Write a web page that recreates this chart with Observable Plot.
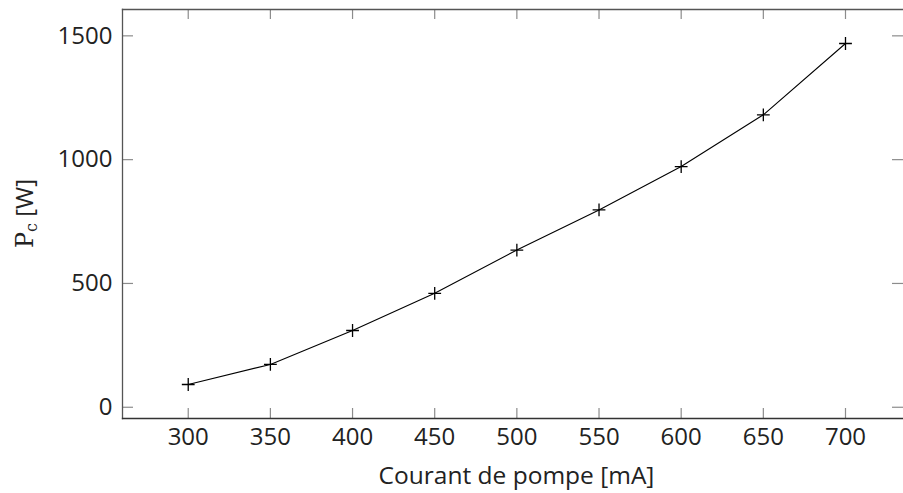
<!DOCTYPE html>
<html>
<head>
<meta charset="utf-8">
<script src="https://cdn.jsdelivr.net/npm/d3@7"></script>
<script src="https://cdn.jsdelivr.net/npm/@observablehq/plot@0.6"></script>
<style>
  html, body { margin: 0; padding: 0; background: #fff; overflow: hidden; }
</style>
</head>
<body>
<div id="chart"></div>
<script>
const current = [300, 350, 400, 450, 500, 550, 600, 650, 700];
const power = [92, 173, 310, 460, 635, 797, 972, 1181, 1469];
const xTicks = [300, 350, 400, 450, 500, 550, 600, 650, 700];
const yTicks = [0, 500, 1000, 1500];
const xLabel = "Courant de pompe [mA]";
const yLabelMain = "P";
const yLabelSub = "c";
const yLabelUnit = " [W]";

const data = current.map((c, i) => ({c, p: power[i]}));

const W = 903, H = 493;
const mL = 122, mR = 0, mT = 9, mB = 75;
const plotW = W - mL - mR, plotH = H - mT - mB;
const tickCol = "#8c8c8c";
const font = "Open Sans, sans-serif";
const chart = Plot.plot({
  width: W,
  height: H,
  marginLeft: mL,
  marginRight: mR,
  marginTop: mT,
  marginBottom: mB,
  style: {fontFamily: font},
  x: {domain: [260, 735.3]},
  y: {domain: [-45.4, 1606.4]},
  marks: [
    Plot.tickX(xTicks, {x: d => d, stroke: tickCol, strokeWidth: 1.2, insetTop: plotH - 10}),
    Plot.tickX(xTicks, {x: d => d, stroke: tickCol, strokeWidth: 1.2, insetBottom: plotH - 10}),
    Plot.tickY(yTicks, {y: d => d, stroke: tickCol, strokeWidth: 1.2, insetRight: plotW - 11}),
    Plot.tickY(yTicks, {y: d => d, stroke: tickCol, strokeWidth: 1.2, insetLeft: plotW - 11}),
    Plot.axisX(xTicks, {anchor: "bottom", tickSize: 0, tickPadding: 9, fontSize: 24, fill: "#222", label: null, tickFormat: d => String(d)}),
    Plot.axisY(yTicks, {anchor: "left", tickSize: 0, tickPadding: 10, fontSize: 24, fill: "#222", label: null, tickFormat: d => String(d)}),
    Plot.frame({anchor: "left", stroke: "#555", strokeWidth: 1.3}),
    Plot.frame({anchor: "top", stroke: "#555", strokeWidth: 1.3}),
    Plot.frame({anchor: "bottom", stroke: "#333", strokeWidth: 1.3}),
    Plot.line(data, {x: "c", y: "p", stroke: "#000", strokeWidth: 1.1}),
    Plot.dot(data, {x: "c", y: "p", symbol: "plus", r: 4.2, stroke: "#000", strokeWidth: 1.3})
  ]
});
document.getElementById("chart").appendChild(chart);

const svg = d3.select(chart);
svg.append("text")
  .attr("x", 516.5)
  .attr("y", 484)
  .attr("text-anchor", "middle")
  .attr("font-size", 24.5)
  .attr("fill", "#222")
  .attr("font-family", font)
  .text(xLabel);
const yt = svg.append("text")
  .attr("transform", `translate(33,${mT + plotH / 2}) rotate(-90)`)
  .attr("text-anchor", "middle")
  .attr("font-size", 24)
  .attr("fill", "#222");
yt.append("tspan").attr("font-family", "DejaVu Serif, serif").text(yLabelMain);
yt.append("tspan").attr("font-family", "DejaVu Serif, serif").attr("font-size", 16).attr("dy", 4).text(yLabelSub);
yt.append("tspan").attr("font-family", font).attr("dy", -4).text(yLabelUnit);
</script>
</body>
</html>
